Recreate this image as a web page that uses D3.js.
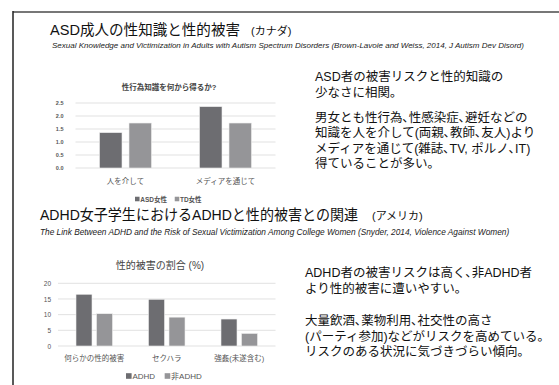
<!DOCTYPE html>
<html>
<head>
<meta charset="utf-8">
<script src="https://cdn.jsdelivr.net/npm/d3@7"></script>
<style>
  body { margin: 0; background: #fff; }
  svg { display: block; font-family: "Liberation Sans", Arial, "Noto Sans CJK JP", sans-serif; }
</style>
</head>
<body>
<svg id="slide" width="559" height="385"></svg>
<script>
// chart 1 data
const knowCats = ["人を介して", "メディアを通じて"];
const asdVals = [1.36, 2.36];
const tdVals = [1.73, 1.73];
const knowTicks = [0, 0.5, 1, 1.5, 2, 2.5];
const knowSeries = ["ASD女性", "TD女性"];

// chart 2 data
const vicCats = ["何らかの性的被害", "セクハラ", "強姦(未遂含む)"];
const adhdVals = [16.5, 14.9, 8.6];
const nonAdhdVals = [10.3, 9.2, 4.0];
const vicTicks = [0, 5, 10, 15, 20];
const vicSeries = ["ADHD", "非ADHD"];

const notes1 = ["ASD者の被害リスクと性的知識の", "少なさに相関｡", "",
  "男女とも性行為､性感染症､避妊などの", "知識を人を介して(両親､教師､友人)より",
  "メディアを通じて(雑誌､TV, ポルノ､IT)", "得ていることが多い｡"];
const notes2 = ["ADHD者の被害リスクは高く､非ADHD者", "より性的被害に遭いやすい｡", "",
  "大量飲酒､薬物利用､社交性の高さ", "(パーティ参加)などがリスクを高めている｡",
  "リスクのある状況に気づきづらい傾向｡"];

const darkGray = "#6d6d71", lightGray = "#959598";

const svg = d3.select("#slide");

// slide frame
svg.append("line").attr("x1", 13).attr("x2", 559).attr("y1", 12).attr("y2", 12)
  .attr("stroke", "#777").attr("stroke-width", 2);
svg.append("line").attr("x1", 13).attr("x2", 13).attr("y1", 11).attr("y2", 385)
  .attr("stroke", "#222").attr("stroke-width", 1.5);

// headings
function heading(x, y, main, len, sub, subX) {
  svg.append("text").attr("x", x).attr("y", y).attr("dominant-baseline", "central")
    .attr("font-size", 14.8).attr("fill", "#111")
    .attr("textLength", len).attr("lengthAdjust", "spacingAndGlyphs").text(main);
  svg.append("text").attr("x", subX).attr("y", y + 1).attr("dominant-baseline", "central")
    .attr("font-size", 11).attr("fill", "#111").text(sub);
}
heading(50, 30, "ASD成人の性知識と性的被害", 190, "(カナダ)", 251);
heading(40, 215, "ADHD女子学生におけるADHDと性的被害との関連", 318, "(アメリカ)", 372);

svg.append("text").attr("x", 52).attr("y", 45).attr("dominant-baseline", "central")
  .attr("font-size", 8).attr("font-style", "italic").attr("fill", "#222")
  .text("Sexual Knowledge and Victimization in Adults with Autism Spectrum Disorders (Brown-Lavoie and Weiss, 2014, J Autism Dev Disord)");
svg.append("text").attr("x", 40).attr("y", 232).attr("dominant-baseline", "central")
  .attr("font-size", 8.3).attr("font-style", "italic").attr("fill", "#222")
  .text("The Link Between ADHD and the Risk of Sexual Victimization Among College Women (Snyder, 2014, Violence Against Women)");

// notes on the right
function notes(lines, x, ys) {
  svg.append("g").selectAll("text").data(lines).join("text")
    .attr("x", x).attr("y", (d, i) => ys[i]).attr("dominant-baseline", "central")
    .attr("font-size", 12.5).attr("fill", "#111").text(d => d);
}
notes(notes1, 315, [77, 92.5, 0, 117.5, 133, 148.5, 164]);
notes(notes2, 305, [273, 289, 0, 321, 336.5, 352]);

// grouped bar chart helper
function barChart(opt) {
  const g = svg.append("g");
  const x = d3.scaleBand().domain(opt.cats).range([opt.x0, opt.x1]);
  const y = d3.scaleLinear().domain([0, opt.max]).range([opt.yBase, opt.yTop]);

  g.selectAll(".grid").data(opt.ticks).join("line")
    .attr("x1", opt.x0).attr("x2", opt.x1)
    .attr("y1", d => y(d)).attr("y2", d => y(d))
    .attr("stroke", "#d9d9d9").attr("stroke-width", 0.8);

  const yAxis = g.append("g").attr("transform", `translate(${opt.x0},0)`)
    .call(d3.axisLeft(y).tickValues(opt.ticks).tickSize(0).tickPadding(opt.tickPad));
  yAxis.select(".domain").remove();
  yAxis.selectAll("text").attr("font-size", opt.tickFont).attr("font-weight", opt.tickWeight)
    .attr("fill", "#555").style("font-family", "inherit");

  const series = [opt.a, opt.b];
  const colors = [darkGray, lightGray];
  series.forEach((vals, s) => {
    g.selectAll(".bar" + s).data(vals).join("rect")
      .attr("x", (d, i) => x(opt.cats[i]) + x.bandwidth() / 2 + (s === 0 ? -opt.gap / 2 - opt.barW : opt.gap / 2))
      .attr("y", d => y(d))
      .attr("width", opt.barW)
      .attr("height", d => y(0) - y(d))
      .attr("fill", colors[s]).attr("stroke", "#eee").attr("stroke-width", 0.6);
  });

  g.selectAll(".cat").data(opt.cats).join("text")
    .attr("x", d => x(d) + x.bandwidth() / 2).attr("y", opt.catY)
    .attr("text-anchor", "middle").attr("dominant-baseline", "central")
    .attr("font-size", opt.catFont).attr("fill", "#555").text(d => d);

  g.append("text").attr("x", opt.titleX).attr("y", opt.titleY)
    .attr("text-anchor", "middle").attr("dominant-baseline", "central")
    .attr("font-size", opt.titleFont).attr("font-weight", opt.titleWeight)
    .attr("fill", "#444").text(opt.title);

  // legend
  const leg = g.append("g");
  let lx = opt.legX;
  opt.series.forEach((name, s) => {
    leg.append("rect").attr("x", lx).attr("y", opt.legY - opt.legFont * 0.35)
      .attr("width", opt.legFont * 0.7).attr("height", opt.legFont * 0.7).attr("fill", colors[s]);
    const t = leg.append("text").attr("x", lx + opt.legFont * 0.8).attr("y", opt.legY)
      .attr("dominant-baseline", "central").attr("font-size", opt.legFont)
      .attr("font-weight", opt.tickWeight).attr("fill", "#555").text(name);
    lx += opt.legFont * 0.8 + t.node().getComputedTextLength() + opt.legFont * 1.2;
  });
}

barChart({
  cats: knowCats, a: asdVals, b: tdVals, series: knowSeries, ticks: knowTicks, max: 2.5,
  x0: 75.5, x1: 275.5, yBase: 168, yTop: 103, barW: 22.5, gap: 7,
  tickPad: 12, tickFont: 5.5, tickWeight: "bold", catY: 181, catFont: 7.5,
  title: "性行為知識を何から得るか?", titleX: 169, titleY: 87, titleFont: 7.5, titleWeight: "bold",
  legX: 135, legY: 199, legFont: 6.5
});

barChart({
  cats: vicCats, a: adhdVals, b: nonAdhdVals, series: vicSeries, ticks: vicTicks, max: 20,
  x0: 58, x1: 275.5, yBase: 346, yTop: 283.3, barW: 16, gap: 4.5,
  tickPad: 7, tickFont: 6.5, tickWeight: "normal", catY: 358, catFont: 7.5,
  title: "性的被害の割合 (%)", titleX: 160, titleY: 265, titleFont: 10, titleWeight: "normal",
  legX: 126, legY: 376, legFont: 8
});
</script>
</body>
</html>
